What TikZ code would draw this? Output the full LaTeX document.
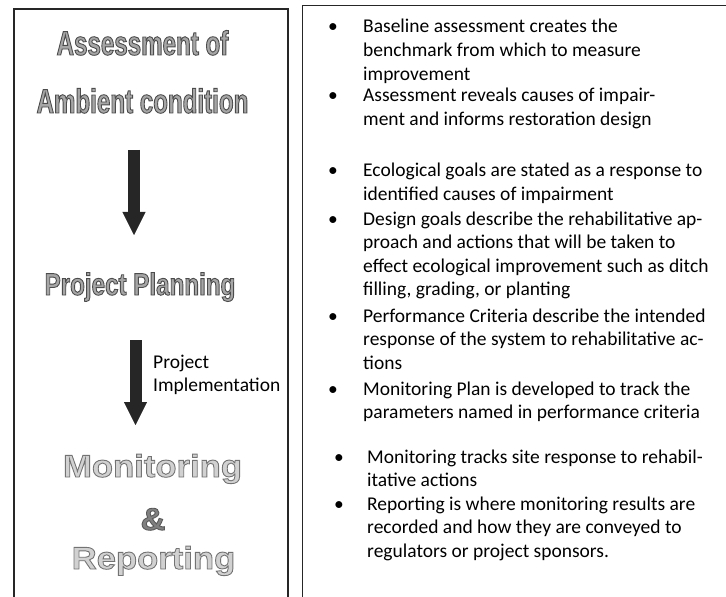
\documentclass[tikz,border=0pt]{standalone}
\usepackage{fontspec}
\setmainfont{Carlito}
\newfontfamily\headfont{Liberation Sans}[FakeStretch=0.71]
\newfontfamily\planfont{Liberation Sans}[FakeStretch=0.78]
\newfontfamily\monfont{Liberation Sans}[FakeStretch=1.1]
\usetikzlibrary{arrows.meta}
\newcommand{\outl}[2]{\special{pdf:literal direct 2 Tr 0.9 w #1 G}#2\special{pdf:literal direct 0 Tr}}
\newcommand{\itm}[1]{\parbox[t]{420bp}{\raggedright #1}}
\tikzset{frame/.style={draw=black!85,line width=1.3bp}}
\tikzset{title/.style={anchor=base,inner sep=0pt}}
\tikzset{bigarrow/.style={line width=12bp,draw=black!85,-{Triangle[width=23bp,length=23bp,line width=0.4bp]}}}
\tikzset{bul/.style={anchor=base,inner sep=0pt,font=\fontsize{19.5bp}{23.6bp}\selectfont}}
\tikzset{item/.style={anchor=base west,inner sep=0pt,font=\fontsize{19.5bp}{23.6bp}\selectfont}}

\begin{document}
\begin{tikzpicture}[x=1bp,y=1bp]
\useasboundingbox (0,0) rectangle (726,-597);
\draw[frame] (14,-597) -- (14,-9) -- (288,-9) -- (288,-597);
\draw[frame] (302.7,-597) -- (302.7,-5.5) -- (726,-5.5);

\node[title,text=black!35,font=\headfont\bfseries\fontsize{34bp}{34bp}\selectfont] (assess) at (142.5,-55) {\outl{0.3}{Assessment of}};
\node[title,text=black!35,font=\headfont\bfseries\fontsize{34bp}{34bp}\selectfont] (ambient) at (142.5,-113) {\outl{0.3}{Ambient condition}};
\node[title,text=black!35,font=\planfont\bfseries\fontsize{31bp}{31bp}\selectfont] (plan) at (140,-295) {\outl{0.3}{Project Planning}};
\node[title,text=black!18,font=\monfont\bfseries\fontsize{31.5bp}{31.5bp}\selectfont] (monit) at (152.5,-477) {\outl{0.45}{Monitoring}};
\node[title,text=black!50,font=\monfont\bfseries\fontsize{31.5bp}{31.5bp}\selectfont] (amp) at (153,-530) {\outl{0.35}{\&}};
\node[title,text=black!18,font=\monfont\bfseries\fontsize{31.5bp}{31.5bp}\selectfont] (report) at (153.5,-569) {\outl{0.45}{Reporting}};

\coordinate (a1s) at (134,-150);
\coordinate (a1e) at (134,-235);
\draw[bigarrow] (a1s) -- (a1e);
\coordinate (a2s) at (135.5,-340);
\coordinate (a2e) at (135.5,-425);
\draw[bigarrow] (a2s) -- (a2e);
\node[item] (impl) at (153,-368) {\itm{Project\\Implementation}};

\node[bul] (d1) at (333,-33) {\textbullet};
\node[item] (t1) at (363,-33) {\itm{Baseline assessment creates the\\benchmark from which to measure\\improvement}};
\node[bul] (d2) at (333,-102) {\textbullet};
\node[item] (t2) at (363,-102) {\itm{Assessment reveals causes of impair-\\ment and informs restoration design}};

\node[bul] (d3) at (333,-177) {\textbullet};
\node[item] (t3) at (363,-177) {\itm{Ecological goals are stated as a response to\\identified causes of impairment}};
\node[bul] (d4) at (333,-225) {\textbullet};
\node[item] (t4) at (363,-225) {\itm{Design goals describe the rehabilitative ap-\\proach and actions that will be taken to\\effect ecological improvement such as ditch\\filling, grading, or planting}};
\node[bul] (d5) at (333,-322) {\textbullet};
\node[item] (t5) at (363,-322) {\itm{Performance Criteria describe the intended\\response of the system to rehabilitative ac-\\tions}};
\node[bul] (d6) at (333,-395) {\textbullet};
\node[item] (t6) at (363,-395) {\itm{Monitoring Plan is developed to track the\\parameters named in performance criteria}};

\node[bul] (d7) at (339,-463) {\textbullet};
\node[item] (t7) at (367,-463) {\itm{Monitoring tracks site response to rehabil-\\itative actions}};
\node[bul] (d8) at (339,-510) {\textbullet};
\node[item] (t8) at (367,-510) {\itm{Reporting is where monitoring results are\\recorded and how they are conveyed to\\regulators or project sponsors.}};
\end{tikzpicture}
\end{document}
